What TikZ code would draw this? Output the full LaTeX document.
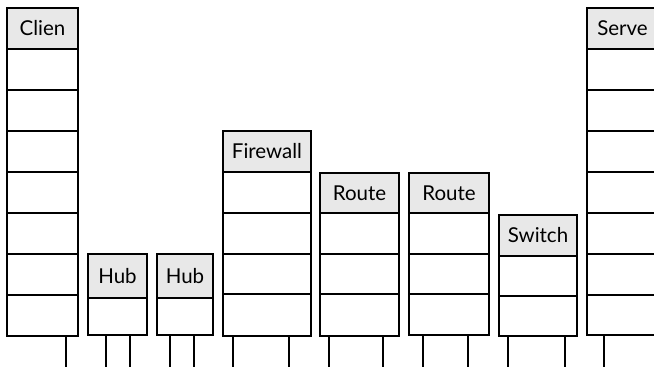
\documentclass[tikz,border=0pt]{standalone}
\usepackage{fontspec}
\setmainfont{Lato}
\begin{document}
\begin{tikzpicture}[x=1pt,y=-1pt,
  cell/.style={draw, line width=1.3pt, inner sep=0pt, outer sep=0pt, anchor=north west},
  head/.style={cell, fill=black!9, font=\fontsize{20.5}{22}\selectfont},
  wire/.style={line width=1.3pt}]
\useasboundingbox (0,0) rectangle (654,367);
% Client
\node[head, minimum width=71, minimum height=41] (cl0) at (7,8) {Clien};
\foreach \i/\y/\h in {1/49/41,2/90/41,3/131/41,4/172/41,5/213/41,6/254/41,7/295/41}
  \node[cell, minimum width=71, minimum height=\h] (cl\i) at (7,\y) {};
% Hub 1
\node[head, minimum width=59, minimum height=44] (ha0) at (88,254) {Hub};
\node[cell, minimum width=59, minimum height=37] (ha1) at (88,298) {};
% Hub 2
\node[head, minimum width=56, minimum height=44] (hb0) at (157,254) {Hub};
\node[cell, minimum width=56, minimum height=37] (hb1) at (157,298) {};
% Firewall
\node[head, minimum width=88, minimum height=41] (fw0) at (223,131) {Firewall};
\foreach \i/\y/\h in {1/172/41,2/213/41,3/254/40,4/294/42}
  \node[cell, minimum width=88, minimum height=\h] (fw\i) at (223,\y) {};
% Router 1
\node[head, minimum width=79, minimum height=40] (ra0) at (320,173) {Route};
\foreach \i/\y/\h in {1/213/41,2/254/40,3/294/42}
  \node[cell, minimum width=79, minimum height=\h] (ra\i) at (320,\y) {};
% Router 2
\node[head, minimum width=80, minimum height=40] (rb0) at (409,173) {Route};
\foreach \i/\y/\h in {1/213/41,2/254/40,3/294/41}
  \node[cell, minimum width=80, minimum height=\h] (rb\i) at (409,\y) {};
% Switch
\node[head, minimum width=78, minimum height=41] (sw0) at (499,215) {Switch};
\foreach \i/\y/\h in {1/256/40,2/296/40}
  \node[cell, minimum width=78, minimum height=\h] (sw\i) at (499,\y) {};
% Server
\node[head, minimum width=71, minimum height=41] (sv0) at (587,8) {Serve};
\foreach \i/\y/\h in {1/49/41,2/90/41,3/131/41,4/172/41,5/213/41,6/254/41,7/295/40}
  \node[cell, minimum width=71, minimum height=\h] (sv\i) at (587,\y) {};
% wires
\foreach \n/\x in {cl7/66, ha1/106, ha1/130, hb1/170, hb1/194, fw4/233, fw4/289,
                   ra3/329, ra3/383, rb3/423, rb3/468, sw2/508, sw2/565, sv7/604} {
  \coordinate (w\n\x) at (\x,367);
  \draw[wire] (\n.south -| w\n\x) -- (w\n\x);
}
\end{tikzpicture}
\end{document}
